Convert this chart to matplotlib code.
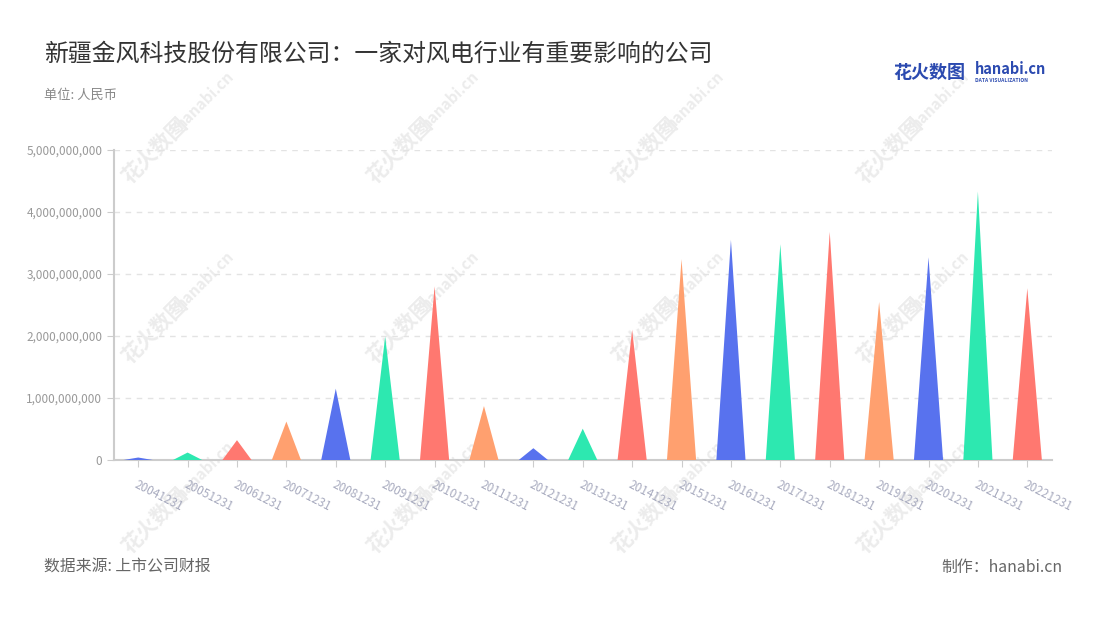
import matplotlib
matplotlib.use('Agg')
import matplotlib.pyplot as plt
from matplotlib.ticker import FuncFormatter

plt.rcParams['font.family'] = ['Noto Sans CJK SC', 'DejaVu Sans']

# 数据 (读自图片, 单位: 人民币)
fechas = ['20041231', '20051231', '20061231', '20071231', '20081231', '20091231',
          '20101231', '20111231', '20121231', '20131231', '20141231', '20151231',
          '20161231', '20171231', '20181231', '20191231', '20201231', '20211231',
          '20221231']
valores = [0.04e9, 0.12e9, 0.32e9, 0.62e9, 1.15e9, 1.99e9, 2.80e9, 0.87e9,
           0.19e9, 0.505e9, 2.10e9, 3.24e9, 3.55e9, 3.48e9, 3.68e9, 2.55e9,
           3.27e9, 4.33e9, 2.77e9]
colores = ['#5872ee', '#2de8b0', '#ff7870', '#ffa06f']

fig = plt.figure(figsize=(11, 6.2), dpi=100)
ax = fig.add_axes([113.5 / 1100, 1 - 460 / 620, (1052 - 113.5) / 1100, 310 / 620])
ax.patch.set_alpha(0)

# triangulos (pictorial bar)
ancho = 0.59
for i, v in enumerate(valores):
    ax.fill([i - ancho / 2, i, i + ancho / 2], [0, v, 0],
            color=colores[i % 4], linewidth=0, zorder=3)

ax.set_xlim(-0.5, len(fechas) - 0.5)
ax.set_ylim(0, 5e9)
ax.set_yticks([0, 1e9, 2e9, 3e9, 4e9, 5e9])
ax.yaxis.set_major_formatter(FuncFormatter(lambda v, p: f'{int(v):,}'))
ax.grid(axis='y', color='#e3e3e3', linestyle=(0, (4, 4)), linewidth=1)
ax.set_axisbelow(True)

for s in ['top', 'right']:
    ax.spines[s].set_visible(False)
for s in ['left', 'bottom']:
    ax.spines[s].set_color('#cccccc')
    ax.spines[s].set_linewidth(1.5)

ax.tick_params(axis='y', length=5, color='#cccccc', labelcolor='#999999', labelsize=8.5, pad=3)
ax.set_xticks(range(len(fechas)))
ax.set_xticklabels(fechas, rotation=-27, ha='left', va='top', rotation_mode='anchor')
ax.tick_params(axis='x', length=5, color='#cccccc', labelcolor='#a8abbf', labelsize=8.5, pad=8)

# marca de agua (detras del grafico)
for wx in [155, 400, 645, 890]:
    for wy in [150, 330, 520]:
        fig.text(wx / 1100, 1 - wy / 620, '花火数图', rotation=45, fontsize=15,
                 color='#ececec', ha='center', va='center', fontweight='bold', zorder=-1)
        fig.text((wx + 50) / 1100, 1 - (wy - 50) / 620, 'hanabi.cn', rotation=45, fontsize=11,
                 color='#ececec', ha='center', va='center', fontweight='bold', zorder=-1)

# textos
fig.text(44 / 1100, 1 - 54 / 620, '新疆金风科技股份有限公司：一家对风电行业有重要影响的公司',
         fontsize=17.2, color='#333333', va='center')
fig.text(44 / 1100, 1 - 95 / 620, '单位: 人民币', fontsize=9.5, color='#888888', va='center')
fig.text(44 / 1100, 1 - 567 / 620, '数据来源: 上市公司财报', fontsize=11.4, color='#666666', va='center')
fig.text(1062 / 1100, 1 - 567 / 620, '制作：hanabi.cn', fontsize=11.4, color='#666666',
         va='center', ha='right')

# logo
fig.text(893 / 1100, 1 - 72 / 620, '花火数图', fontsize=13, color='#2b4ab0',
         fontweight='bold', va='center')
fig.text(975 / 1100, 1 - 69 / 620, 'hanabi.cn', fontsize=10.5, color='#2b4ab0',
         fontweight='bold', va='center')
fig.text(975 / 1100, 1 - 80 / 620, 'DATA VISUALIZATION', fontsize=3.6, color='#2b4ab0',
         fontweight='bold', va='center')

plt.savefig('out.png', dpi=100)
